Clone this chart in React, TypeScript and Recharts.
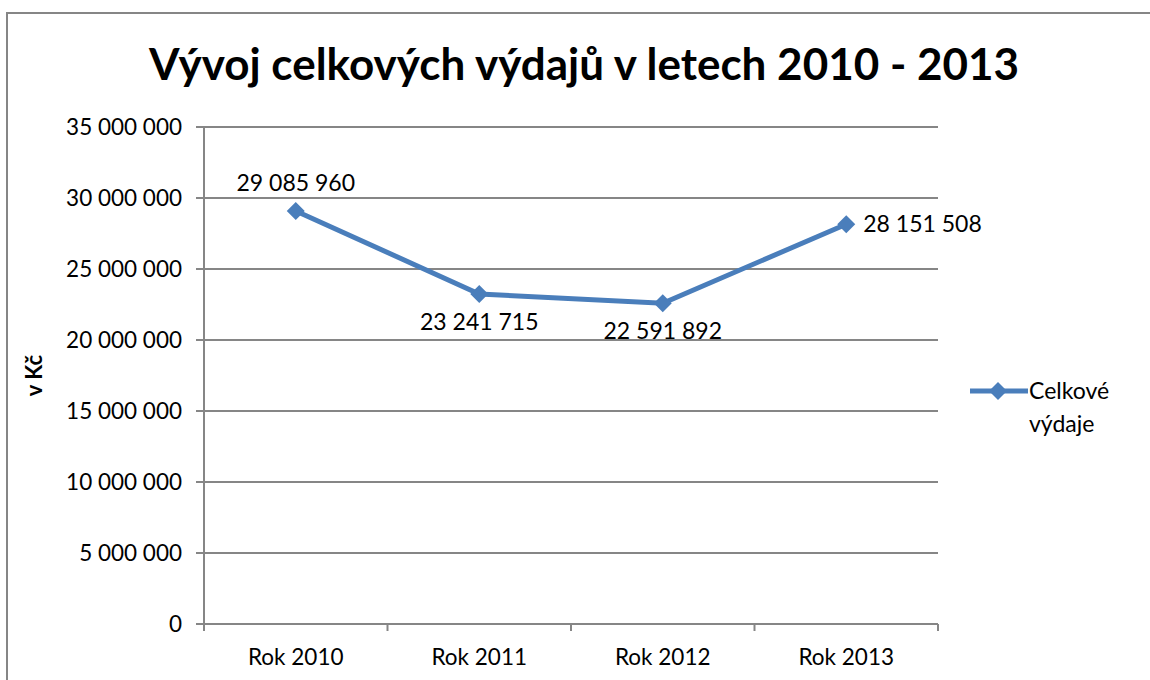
import { LineChart, Line, XAxis, YAxis, CartesianGrid, LabelList } from 'recharts'

const categories = ['Rok 2010', 'Rok 2011', 'Rok 2012', 'Rok 2013']
const totals = [29085960, 23241715, 22591892, 28151508]
const yTicks = [0, 5000000, 10000000, 15000000, 20000000, 25000000, 30000000, 35000000]
const seriesName = 'Celkové výdaje'
const labelSides = ['top', 'bottom', 'bottom', 'right']

const data = categories.map((c, i) => ({ name: c, total: totals[i] }))

const W = 1150
const H = 680
const M = { top: 127, right: 212, bottom: 0, left: 0 }
const Y_W = 204
const X_H = 56
const PLOT_W = W - M.left - M.right - Y_W
const BLUE = '#4A7EBB'
const GRID = '#868686'
const FONT = 'Lato, "Open Sans", sans-serif'

const fmt = (v: number) => v.toLocaleString('en-US').replace(/,/g, ' ')

function XTick({ x, y, payload, index }: any) {
  const band = PLOT_W / categories.length
  const top = y - 8
  return (
    <g>
      <line x1={x - band / 2} x2={x - band / 2} y1={top} y2={top + 7} stroke={GRID} strokeWidth={2} />
      {index === categories.length - 1 && (
        <line x1={x + band / 2} x2={x + band / 2} y1={top} y2={top + 7} stroke={GRID} strokeWidth={2} />
      )}
      <text x={x} y={y + 33} textAnchor="middle" fontSize={22.5} fill="#000" fontFamily={FONT}>
        {payload.value}
      </text>
    </g>
  )
}

function ValueLabel({ x, y, value, index }: any) {
  const side = labelSides[index]
  let tx = x
  let ty = y
  let anchor = 'middle'
  if (side === 'top') ty = y - 28
  if (side === 'bottom') ty = y + 28
  if (side === 'right') {
    tx = x + 17
    anchor = 'start'
  }
  return (
    <text x={tx} y={ty} dy="0.35em" textAnchor={anchor} fontSize={23} fill="#000" fontFamily={FONT}>
      {fmt(value)}
    </text>
  )
}

function Diamond({ cx, cy }: any) {
  const r = 9
  return <path d={`M${cx},${cy - r}L${cx + r},${cy}L${cx},${cy + r}L${cx - r},${cy}Z`} fill={BLUE} />
}

export default function App() {
  return (
    <div style={{ position: 'absolute', left: 0, top: 0, width: W, height: H, overflow: 'hidden', background: '#fff', fontFamily: FONT }}>
      <div style={{ position: 'absolute', left: 6, top: 12, width: W + 20, height: H + 20, border: `2px solid ${GRID}` }} />
      <div style={{ position: 'absolute', left: 0, top: 33, width: 1168, textAlign: 'center', fontSize: 44, fontWeight: 700, lineHeight: '60px' }}>
        Vývoj celkových výdajů v letech 2010 - 2013
      </div>
      <div style={{ position: 'absolute', top: 0, left: 0 }}>
        <LineChart width={W} height={H} data={data} margin={M}>
          <CartesianGrid vertical={false} stroke={GRID} strokeWidth={2} />
          <XAxis
            dataKey="name"
            scale="band"
            height={X_H}
            stroke={GRID}
            strokeWidth={2}
            tickLine={false}
            tick={<XTick />}
            interval={0}
          />
          <YAxis
            width={Y_W}
            domain={[0, 35000000]}
            ticks={yTicks}
            tickFormatter={fmt}
            stroke={GRID}
            strokeWidth={2}
            tickSize={8}
            tickMargin={14}
            tick={{ fontSize: 22.5, fill: '#000', fontFamily: FONT }}
            label={{ value: 'v Kč', angle: -90, position: 'insideLeft', offset: 34, style: { fontSize: 22, fontWeight: 700, fill: '#000', fontFamily: FONT, textAnchor: 'middle' } }}
          />
          <Line
            type="linear"
            dataKey="total"
            name={seriesName}
            stroke={BLUE}
            strokeWidth={5}
            dot={<Diamond />}
            activeDot={false}
            isAnimationActive={false}
          >
            <LabelList dataKey="total" content={<ValueLabel />} />
          </Line>
        </LineChart>
      </div>
      <div style={{ position: 'absolute', left: 968, top: 376 }}>
        <svg width={62} height={30} style={{ position: 'absolute', left: 0, top: 0 }}>
          <line x1={2} x2={60} y1={15} y2={15} stroke={BLUE} strokeWidth={5} />
          <path d="M30,6L39,15L30,24L21,15Z" fill={BLUE} />
        </svg>
        <div style={{ position: 'absolute', left: 61, top: 0, width: 100, fontSize: 23, lineHeight: '33px', marginTop: -2 }}>
          {seriesName}
        </div>
      </div>
    </div>
  )
}
